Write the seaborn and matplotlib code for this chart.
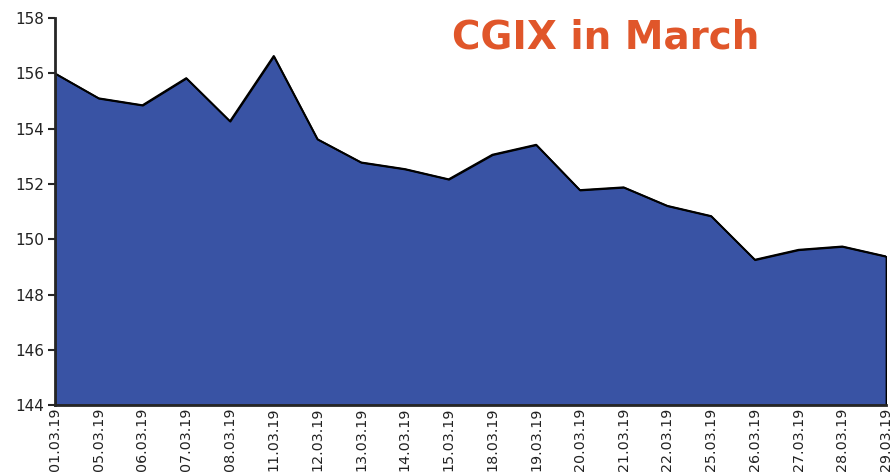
import matplotlib
matplotlib.use("Agg")
import matplotlib.pyplot as plt
import seaborn as sns
import pandas as pd

# 數據
dates = ["01.03.19", "05.03.19", "06.03.19", "07.03.19", "08.03.19",
         "11.03.19", "12.03.19", "13.03.19", "14.03.19", "15.03.19",
         "18.03.19", "19.03.19", "20.03.19", "21.03.19", "22.03.19",
         "25.03.19", "26.03.19", "27.03.19", "28.03.19", "29.03.19"]
prices = [156.00, 155.10, 154.85, 155.83, 154.27,
          156.63, 153.62, 152.78, 152.54, 152.17,
          153.06, 153.42, 151.78, 151.88, 151.21,
          150.84, 149.26, 149.62, 149.74, 149.38]
y_ticks = [144, 146, 148, 150, 152, 154, 156, 158]

df = pd.DataFrame({"Date": dates, "Price": prices})
df["pos"] = range(len(df))

sns.set_style("ticks")
plt.rcParams["font.family"] = ["DejaVu Sans"]

fig = plt.figure(figsize=(8.91, 4.76), dpi=100)
ax = fig.add_axes([0.0617, 0.149, 0.9327, 0.813])

fill_color = "#3953a4"
ax.fill_between(df["pos"], df["Price"], 144, color=fill_color, edgecolor="black",
                linewidth=1.3, zorder=1)
sns.lineplot(data=df, x="pos", y="Price", color="black", linewidth=1.3, ax=ax, zorder=2)

ax.set_xlim(0, len(df) - 1)
ax.set_ylim(144, 158)
ax.set_yticks(y_ticks)
ax.set_yticklabels([str(t) for t in y_ticks], fontsize=11, color="#222222")
ax.set_xticks(df["pos"])
ax.set_xticklabels(df["Date"], rotation=90, fontsize=10.3, color="#222222")
ax.tick_params(axis="x", length=0, pad=2)
ax.tick_params(axis="y", length=5, width=1.5, pad=3)
ax.set_xlabel("")
ax.set_ylabel("")

sns.despine(ax=ax)
ax.spines["left"].set_linewidth(2)
ax.spines["bottom"].set_linewidth(2)

fig.text(0.68, 0.921, "CGIX in March", color="#e0562a", fontsize=28,
         fontweight="bold", family=["DejaVu Sans"],
         ha="center", va="center")

plt.savefig("out.png", dpi=100)
